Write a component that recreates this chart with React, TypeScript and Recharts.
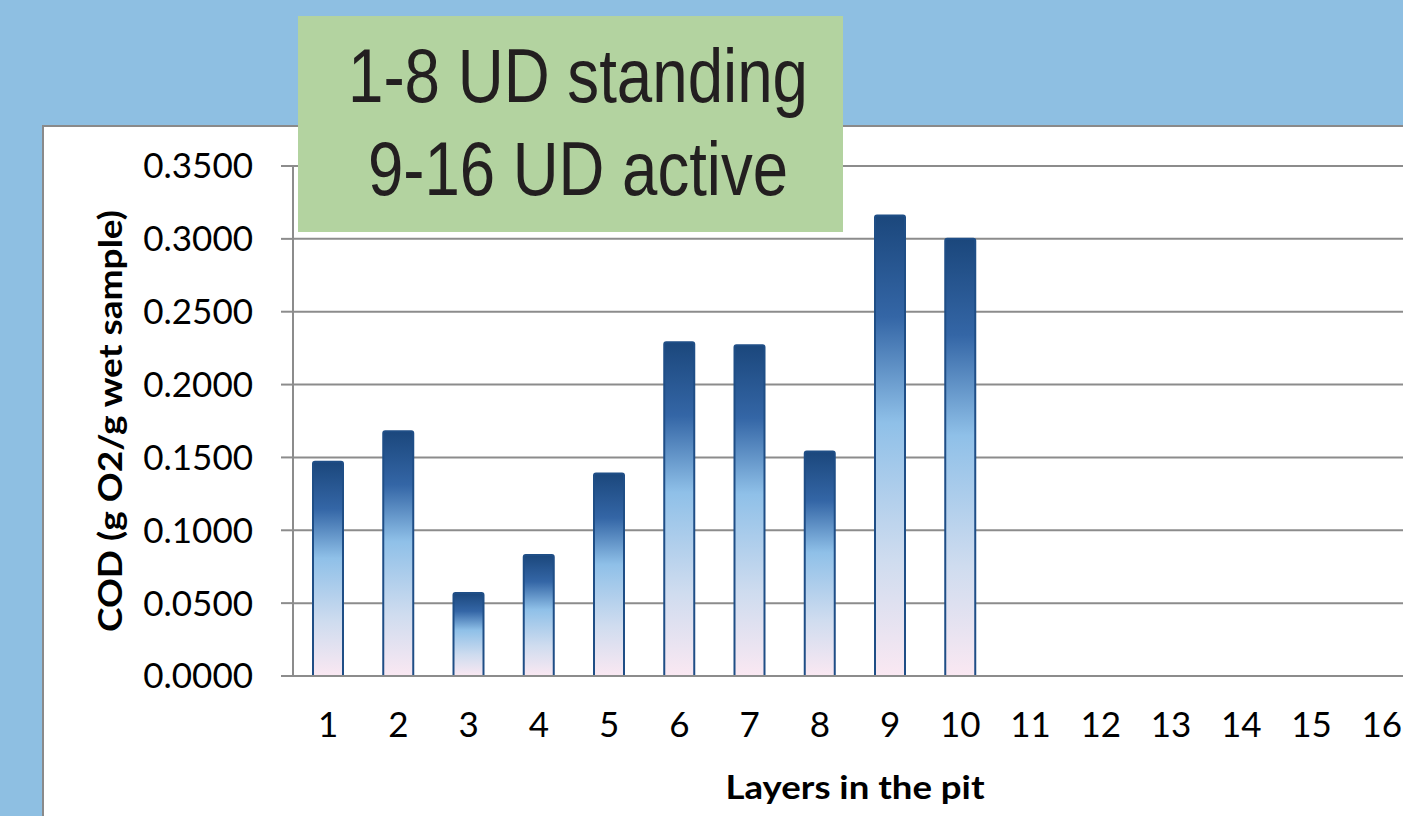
import { BarChart, Bar, XAxis, YAxis, CartesianGrid } from 'recharts';

const layers = ['1', '2', '3', '4', '5', '6', '7', '8', '9', '10', '11', '12', '13', '14', '15', '16'];
const codValues = [0.147, 0.168, 0.057, 0.083, 0.139, 0.229, 0.227, 0.154, 0.316, 0.3, null, null, null, null, null, null];
const yTicks = [0, 0.05, 0.1, 0.15, 0.2, 0.25, 0.3, 0.35];
const noteLines = ['1-8 UD standing', '9-16 UD active'];
const noteWidths = [460, 420];

const data = layers.map((layer, i) => ({ layer, cod: codValues[i] }));

const tickFont = { fontFamily: 'Lato, "Liberation Sans", sans-serif', fontSize: 35, fill: '#000' };
const titleFont = 'Lato, "Liberation Sans", sans-serif';

export default function App() {
  return (
    <div
      style={{
        position: 'fixed',
        left: 0,
        top: 0,
        width: 1403,
        height: 816,
        overflow: 'hidden',
        background: '#8ebfe2',
      }}
    >
      {/* white chart panel */}
      <div
        style={{
          position: 'absolute',
          left: 42,
          top: 125,
          width: 1420,
          height: 760,
          background: '#fff',
          borderTop: '2px solid #8a8a8a',
          borderLeft: '2px solid #8a8a8a',
          boxSizing: 'border-box',
        }}
      />

      <div style={{ position: 'absolute', left: 0, top: 0 }}>
        <BarChart
          width={1437}
          height={816}
          data={data}
          margin={{ top: 166, right: 20, left: 0, bottom: 100 }}
          barSize={30}
        >
          <defs>
            <linearGradient id="barFill" x1="0" y1="0" x2="0" y2="1">
              <stop offset="0%" stopColor="#1b477c" />
              <stop offset="22%" stopColor="#3466a6" />
              <stop offset="45%" stopColor="#8fc0e8" />
              <stop offset="75%" stopColor="#cfdcef" />
              <stop offset="100%" stopColor="#fae8f2" />
            </linearGradient>
          </defs>
          <CartesianGrid vertical={false} stroke="#8c8c8c" strokeWidth={2} />
          <XAxis
            dataKey="layer"
            height={40}
            tickLine={false}
            tickMargin={30}
            axisLine={{ stroke: '#8c8c8c', strokeWidth: 2 }}
            tick={tickFont}
            interval={0}
            label={{
              content: (p: any) => {
                const vb = p.viewBox;
                return (
                  <text
                    x={vb.x + vb.width / 2}
                    y={vb.y + 123}
                    textAnchor="middle"
                    textLength={259}
                    lengthAdjust="spacingAndGlyphs"
                    fontFamily={titleFont}
                    fontWeight="bold"
                    fontSize={33}
                    fill="#000"
                  >
                    Layers in the pit
                  </text>
                );
              },
            }}
          />
          <YAxis
            width={293}
            domain={[0, 0.35]}
            ticks={yTicks}
            tickFormatter={(v: number) => v.toFixed(4)}
            tickSize={12}
            tickMargin={28}
            tickLine={{ stroke: '#8c8c8c', strokeWidth: 2 }}
            axisLine={{ stroke: '#8c8c8c', strokeWidth: 2 }}
            tick={tickFont}
            label={{
              content: (p: any) => {
                const vb = p.viewBox;
                const cx = vb.x + 122;
                const cy = vb.y + vb.height / 2;
                return (
                  <text
                    x={cx}
                    y={cy}
                    transform={`rotate(-90, ${cx}, ${cy})`}
                    textAnchor="middle"
                    textLength={422}
                    lengthAdjust="spacingAndGlyphs"
                    fontFamily={titleFont}
                    fontWeight="bold"
                    fontSize={33}
                    fill="#000"
                  >
                    COD (g O2/g wet sample)
                  </text>
                );
              },
            }}
          />
          <Bar
            dataKey="cod"
            fill="url(#barFill)"
            stroke="#1f4e86"
            strokeWidth={2}
            radius={[2, 2, 0, 0]}
            isAnimationActive={false}
          />
        </BarChart>
      </div>

      {/* annotation box */}
      <svg
        width={1403}
        height={816}
        style={{ position: 'absolute', left: 0, top: 0, pointerEvents: 'none' }}
      >
        <rect x={298} y={16} width={545} height={216} fill="#b3d3a0" />
        {noteLines.map((line, i) => (
          <text
            key={line}
            x={578}
            y={102 + i * 93}
            textAnchor="middle"
            textLength={noteWidths[i]}
            lengthAdjust="spacingAndGlyphs"
            fontFamily='"Liberation Sans", Arial, sans-serif'
            fontSize={76}
            fill="#231f20"
          >
            {line}
          </text>
        ))}
      </svg>
    </div>
  );
}
